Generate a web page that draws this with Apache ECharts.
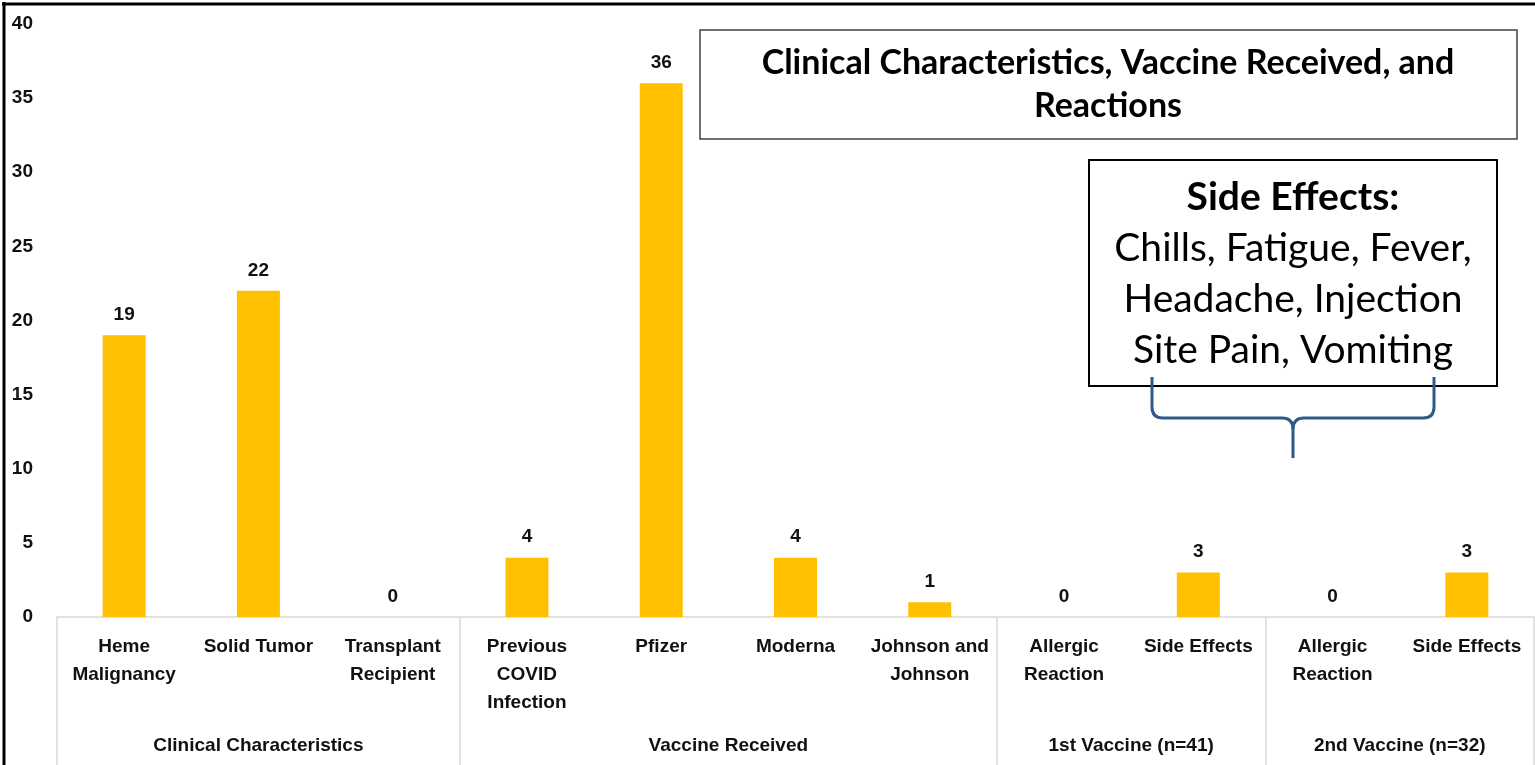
<!DOCTYPE html>
<html>
<head>
<meta charset="utf-8">
<script src="https://cdn.jsdelivr.net/npm/echarts@6/dist/echarts.min.js"></script>
<style>
html,body{margin:0;padding:0;background:#fff;}
#chart{width:1535px;height:765px;}
</style>
</head>
<body>
<div id="chart"></div>
<script>
var categories = ['Heme\nMalignancy', 'Solid Tumor', 'Transplant\nRecipient', 'Previous\nCOVID\nInfection', 'Pfizer', 'Moderna', 'Johnson and\nJohnson', 'Allergic\nReaction', 'Side Effects', 'Allergic\nReaction', 'Side Effects'];
var counts = [19, 22, 0, 4, 36, 4, 1, 0, 3, 0, 3];
var groupNames = ['Clinical Characteristics', 'Vaccine Received', '1st Vaccine (n=41)', '2nd Vaccine (n=32)'];
var groupSizes = [3, 4, 2, 2];
var yTicks = [0, 5, 10, 15, 20, 25, 30, 35, 40];
var titleText = 'Clinical Characteristics, Vaccine Received, and\nReactions';
var noteTitle = 'Side Effects:';
var noteText = 'Chills, Fatigue, Fever,\nHeadache, Injection\nSite Pain, Vomiting';

var total = groupSizes.reduce(function(a, b){ return a + b; }, 0);
var groupAxisData = [];
for (var i = 0; i <= total * 2; i++) groupAxisData.push('');
var boundaries = [0];
var centers = [];
var acc = 0;
groupSizes.forEach(function(s, gi){
  centers.push(acc * 2 + s);
  groupAxisData[acc * 2 + s] = groupNames[gi];
  acc += s;
  boundaries.push(acc * 2);
});

var FONT = 'Lato';
var AXF = '"Liberation Sans", Arial, sans-serif';
var TXT = '#111111';
var BRACE = { stroke: '#2E5A87', lineWidth: 3, fill: 'none' };
var chart = echarts.init(document.getElementById('chart'));
chart.setOption({
  animation: false,
  grid: { left: 57, right: 1, top: 24, bottom: 148, containLabel: false },
  xAxis: [
    {
      type: 'category',
      data: categories,
      axisLine: { show: true, lineStyle: { color: '#d9d9d9', width: 1.5 } },
      axisTick: { show: false },
      axisLabel: { interval: 0, margin: 16, color: TXT, fontFamily: AXF, fontWeight: 'bold', fontSize: 19, lineHeight: 28 },
      splitLine: { show: false }
    },
    {
      type: 'category',
      data: groupAxisData,
      boundaryGap: false,
      position: 'bottom',
      axisLine: { show: false },
      axisTick: {
        show: true, length: 160,
        interval: function(idx){ return boundaries.indexOf(idx) >= 0; },
        lineStyle: { color: '#d9d9d9', width: 1.5 }
      },
      axisLabel: {
        margin: 119, color: TXT, fontFamily: AXF, fontWeight: 'bold', fontSize: 19,
        interval: function(idx){ return centers.indexOf(idx) >= 0; }
      },
      splitLine: { show: false }
    }
  ],
  yAxis: {
    type: 'value', min: 0, max: 40, interval: 5,
    axisLine: { show: false }, axisTick: { show: false }, splitLine: { show: false },
    axisLabel: { margin: 24, color: TXT, fontFamily: AXF, fontWeight: 'bold', fontSize: 19,
      formatter: function(v){ return yTicks.indexOf(v) >= 0 ? String(v) : ''; } }
  },
  series: [{
    type: 'bar',
    xAxisIndex: 0,
    data: counts,
    barWidth: 43,
    itemStyle: { color: '#FFC000' },
    label: { show: true, position: 'top', distance: 11, color: TXT, fontFamily: AXF, fontWeight: 'bold', fontSize: 19 }
  }],
  graphic: [
    { type: 'line', shape: { x1: 4, y1: 2, x2: 4, y2: 765 }, style: { stroke: '#000', lineWidth: 3 } },
    { type: 'line', shape: { x1: 2, y1: 4, x2: 1535, y2: 4 }, style: { stroke: '#000', lineWidth: 3 } },
    { type: 'rect', shape: { x: 700, y: 30, width: 817, height: 109 }, style: { fill: '#fff', stroke: '#404040', lineWidth: 1.5 } },
    { type: 'text', x: 1108, y: 85, style: { text: titleText, fill: '#000', font: 'bold 34px ' + FONT, align: 'center', verticalAlign: 'middle', lineHeight: 43 } },
    { type: 'rect', shape: { x: 1089, y: 160, width: 408, height: 226 }, style: { fill: '#fff', stroke: '#000', lineWidth: 2 } },
    { type: 'text', x: 1293, y: 197, style: { text: noteTitle, fill: '#000', font: 'bold 39px ' + FONT, align: 'center', verticalAlign: 'middle' } },
    { type: 'text', x: 1293, y: 299, style: { text: noteText, fill: '#000', font: '39px ' + FONT, align: 'center', verticalAlign: 'middle', lineHeight: 51 } },
    { type: 'line', shape: { x1: 1152, y1: 377, x2: 1152, y2: 407 }, style: BRACE },
    { type: 'bezierCurve', shape: { x1: 1152, y1: 407, cpx1: 1152, cpy1: 418, x2: 1163, y2: 418 }, style: BRACE },
    { type: 'line', shape: { x1: 1163, y1: 418, x2: 1282, y2: 418 }, style: BRACE },
    { type: 'bezierCurve', shape: { x1: 1282, y1: 418, cpx1: 1293, cpy1: 418, x2: 1293, y2: 429 }, style: BRACE },
    { type: 'line', shape: { x1: 1293, y1: 429, x2: 1293, y2: 458 }, style: BRACE },
    { type: 'bezierCurve', shape: { x1: 1293, y1: 429, cpx1: 1293, cpy1: 418, x2: 1304, y2: 418 }, style: BRACE },
    { type: 'line', shape: { x1: 1304, y1: 418, x2: 1423, y2: 418 }, style: BRACE },
    { type: 'bezierCurve', shape: { x1: 1423, y1: 418, cpx1: 1434, cpy1: 418, x2: 1434, y2: 407 }, style: BRACE },
    { type: 'line', shape: { x1: 1434, y1: 407, x2: 1434, y2: 377 }, style: BRACE }
  ]
});
</script>
</body>
</html>
